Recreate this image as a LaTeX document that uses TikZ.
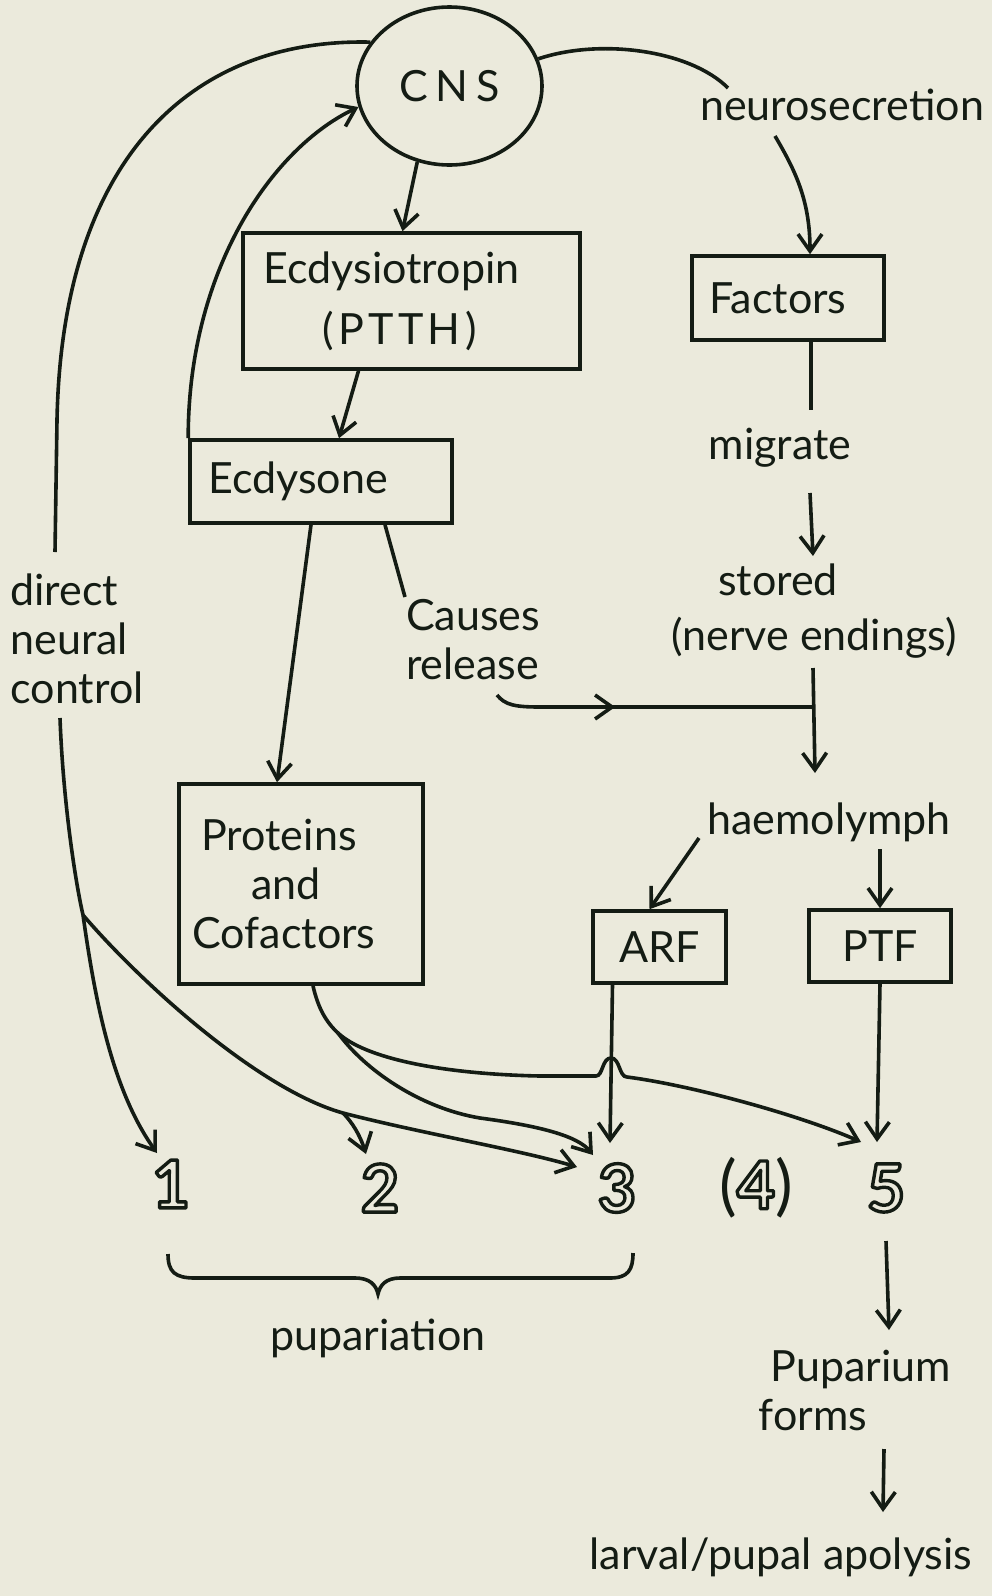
\documentclass[tikz,border=0pt]{standalone}
\usepackage{fontspec}
\setmainfont{Lato}
\usetikzlibrary{arrows.meta,shapes.geometric,decorations.markings,calc}
\definecolor{paper}{RGB}{235,234,220}
\definecolor{ink}{RGB}{20,28,20}
\newcommand{\outl}[1]{\special{pdf:literal direct 1 Tr 3.4 w 1 j}#1\special{pdf:literal direct 0 Tr}}
\begin{document}
\begin{tikzpicture}[x=1pt,y=-1pt,line width=3.6pt,draw=ink,
  >={Straight Barb[length=17pt,width=24pt]},
  every node/.style={font=\fontsize{43}{49}\selectfont,text=ink},
  box/.style={draw=ink,rectangle,inner sep=0pt},
  digit/.style={font=\fontsize{66}{70}\selectfont\bfseries,inner sep=0pt},
  midarrow/.style={postaction={decorate},decoration={markings,mark=at position #1 with {\arrow{>}}}}]
\fill[paper] (0,0) rectangle (992,1596);
\useasboundingbox (0,0) rectangle (992,1596);

% main nodes
\node[ellipse,draw=ink,minimum width=185,minimum height=158,inner sep=0pt] (cns) at (449.5,86) {\addfontfeatures{LetterSpace=18}CNS};
\node[box,minimum width=337,minimum height=136,align=center] (ecdt) at (411.5,301) {Ecdysiotropin\kern40pt\\[12pt]{\addfontfeatures{LetterSpace=10}(PTTH)}\kern24pt};
\node[box,minimum width=262,minimum height=83] (ecdy) at (321,481.5) {Ecdysone\kern46pt};
\node[box,minimum width=192,minimum height=84] (fact) at (788,298) {Factors\kern20pt};
\node[box,minimum width=244,minimum height=200,align=center] (prot) at (301,884) {Proteins\kern44pt\\\hbox{and\kern30pt}\\Cofactors\kern34pt};
\node[box,minimum width=133,minimum height=72] (arf) at (659.5,947) {ARF};
\node[box,minimum width=142,minimum height=72] (ptf) at (880,946) {PTF};

% labels
\node (ns) at (842,105) {neurosecretion};
\node (mig) at (780,448) {migrate};
\node (st) at (778,580) {stored};
\node (ne) at (814,638) {(nerve endings)};
\node[align=left] (cr) at (473,640) {Causes\\release};
\node[align=left] (dnc) at (77,639) {direct\\neural\\control};
\node (haem) at (829,822) {haemolymph};
\node[digit] (n1) at (171,1184) {\outl{1}};
\node[digit] (n2) at (380,1188) {\outl{2}};
\node[digit] (n3) at (617,1188) {\outl{3}};
\node[digit] (n4) at (756,1188) {{\mdseries(}\outl{4}{\mdseries)}};
\node[digit] (n5) at (886,1188) {\outl{5}};
\node (pup) at (378,1338) {pupariation};
\node[align=left] (pf) at (855,1390) {\hspace*{12pt}Puparium\\forms};
\node (la) at (781,1557) {larval/pupal apolysis};

% junction points
\coordinate (b1) at (83,915);
\coordinate (b2) at (343,1113);
\coordinate (b3) at (338,1033);
\coordinate (junc) at (813.5,707);

% CNS chain
\draw[->] (cns.247) -- ($(ecdt.north)+(-9,0)$);
\draw[->] ($(ecdt.south)+(-53,0)$) -- ($(ecdy.north)+(18,0)$);
\draw[->] (ecdy.north west) .. controls (188,270) and (272,148) .. (cns.193);

% direct neural control
\draw (cns.151) .. controls (190,38) and (62,160) .. (57,420) -- ($(dnc)+(-22,-87)$);
\draw ($(dnc)+(-17,79)$) .. controls (63,800) and (75,880) .. (b1);
\draw[->] (b1) .. controls (95,1000) and (112,1090) .. ($(n1)+(-14,-31)$);
\draw[->] (b1) .. controls (143,985) and (260,1090) .. (b2) .. controls (420,1133) and (520,1150) .. ($(n3)+(-40,-21)$);
\draw[->] (b2) .. controls (352,1122) and (360,1135) .. ($(n2)+(-14,-34)$);

% ecdysone outputs
\draw[->] ($(ecdy.south)+(-10,0)$) -- ($(prot.north)+(-24,0)$);
\draw ($(ecdy.south)+(64,0)$) -- ($(cr)+(-68,-43)$);
\draw[midarrow=0.38] ($(cr)+(24,55)$) .. controls (505,705) and (515,707) .. (540,707) -- (junc);

% neurosecretion branch
\draw (cns.17) .. controls (600,38) and (690,50) .. ($(ns)+(-114,-17)$);
\draw[->] ($(ns)+(-67,31)$) .. controls (795,170) and (810,200) .. ($(fact.north)+(22,0)$);
\draw ($(fact.south)+(23,0)$) -- ($(mig)+(31,-38)$);
\draw[->] ($(mig)+(30,45)$) -- ($(st)+(35,-24)$);
\draw[->] ($(ne)+(-1,30)$) -- ($(haem)+(-14,-49)$);
\draw[->] ($(haem)+(-130,16)$) -- ($(arf.north)+(-10,0)$);
\draw[->] ($(haem)+(51,27)$) -- (ptf.north);

% proteins outputs
\draw ($(prot.south)+(12,0)$) .. controls (318,1008) and (326,1022) .. (b3);
\draw[->] (b3) .. controls (365,1070) and (420,1108) .. (480,1118) .. controls (540,1126) and (578,1136) .. ($(n3)+(-24,-33)$);
\draw[->] (b3) .. controls (365,1058) and (440,1074) .. (540,1076) -- (596,1076)
  .. controls (603,1076) and (602,1058) .. (611,1058) .. controls (620,1058) and (619,1077) .. (627,1077)
  .. controls (690,1085) and (800,1115) .. ($(n5)+(-25,-46)$);
\draw[->] ($(arf.south)+(-47,0)$) -- ($(n3)+(-7,-45)$);
\draw[->] (ptf.south) -- ($(n5)+(-9,-46)$);

% brace
\draw (168,1254) .. controls (168,1272) and (175,1278) .. (195,1278) -- (355,1278)
  .. controls (370,1278) and (376,1285) .. (378,1294) .. controls (380,1285) and (386,1278) .. (400,1278)
  -- (610,1278) .. controls (628,1278) and (633,1270) .. (633,1253);

% final chain
\draw[->] ($(n5)+(0,53)$) -- ($(pf)+(34,-60)$);
\draw[->] ($(pf)+(29,59)$) -- ($(la)+(102,-45)$);
\end{tikzpicture}
\end{document}
